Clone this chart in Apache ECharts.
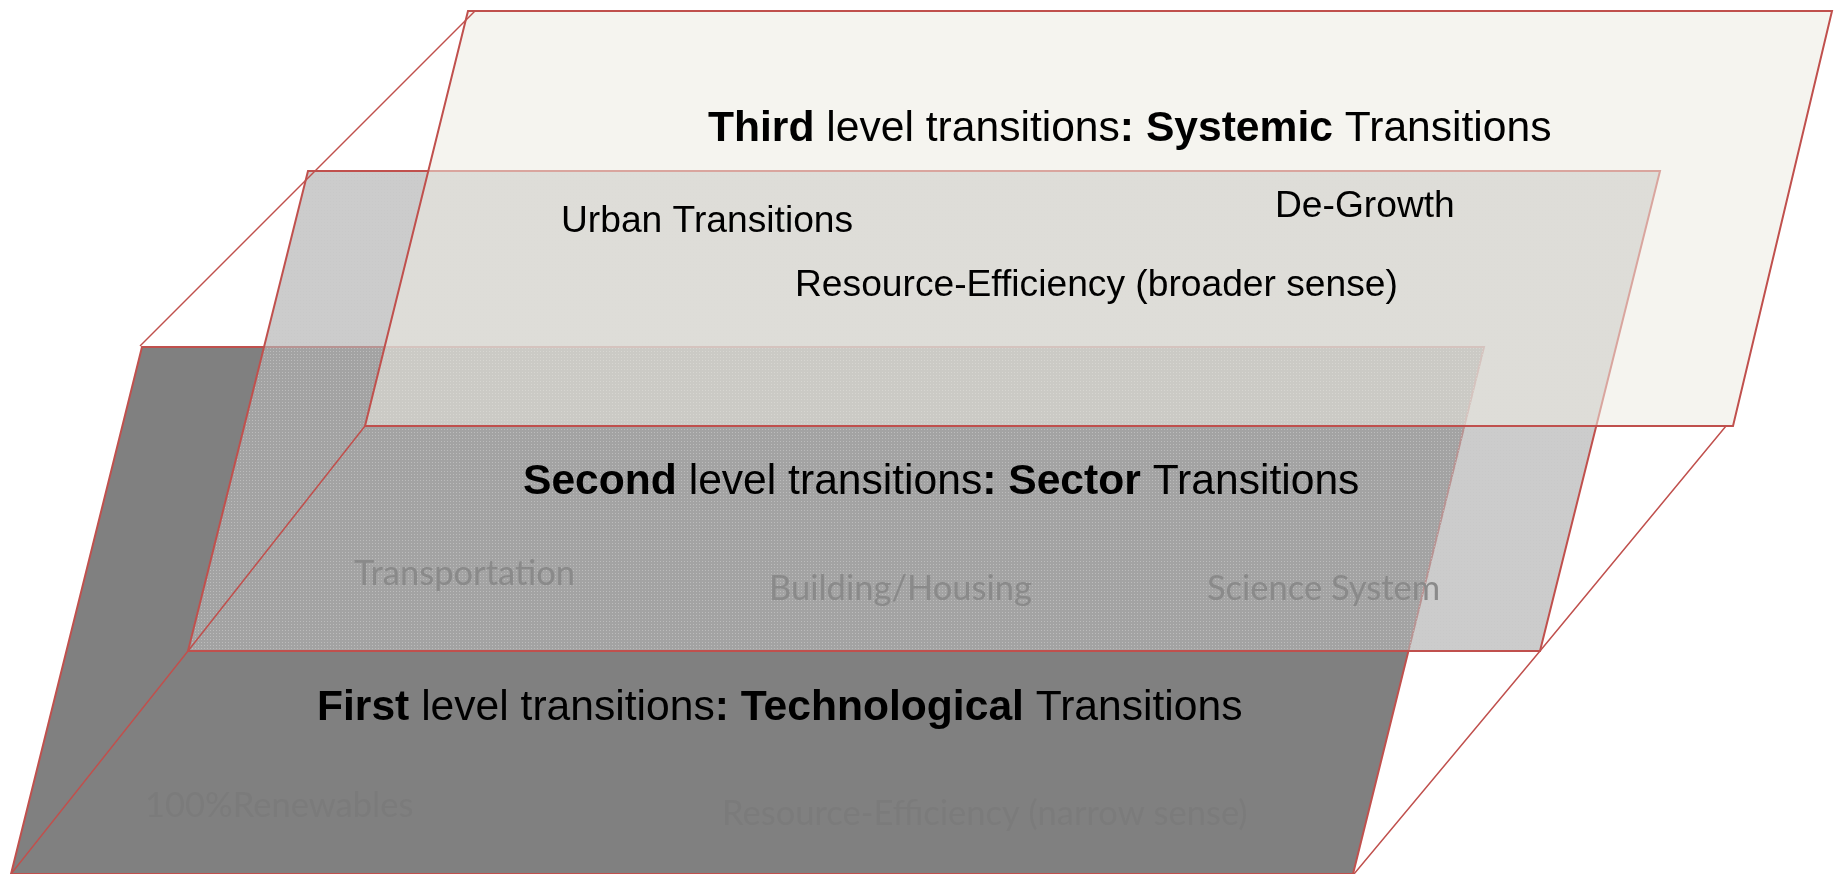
<!DOCTYPE html>
<html>
<head>
<meta charset="utf-8">
<script src="https://cdn.jsdelivr.net/npm/echarts@6/dist/echarts.min.js"></script>
<style>
html, body { margin: 0; padding: 0; background: #fff; }
#main { width: 1834px; height: 874px; }
</style>
</head>
<body>
<div id="main"></div>
<script>
// corners of the three layers, picture units (y grows downwards)
var firstLayer = [[142, 347], [1484, 347], [1353, 874], [11, 874]]
var secondLayer = [[308, 171], [1660, 171], [1540, 651], [188, 651]]
var thirdLayer = [[468, 11], [1832, 11], [1733, 426], [365, 426]]

// thin lines joining the corners of the layers
var topLeftLine = [[475, 11], [140, 346]]
var bottomLeftLine = [[365, 426], [188, 651], [11, 874]]
var bottomRightLine = [[1726, 426], [1540, 651], [1354, 874]]

// headings of each level ({b|..} = bold part)
var headings = [
	'{b|Third} level transitions{b|:} {b|Systemic} Transitions',
	'{b|Second} level transitions{b|:} {b|Sector} Transitions',
	'{b|First} level transitions{b|:} {b|Technological} Transitions'
]
var headingPos = [[708, 129], [523, 482], [317, 708]]

var systemicItems = ['Urban Transitions', 'De-Growth', 'Resource-Efficiency (broader sense)']
var systemicPos = [[561, 222], [1275, 207], [795, 286]]

var sectorItems = ['Transportation', 'Building/Housing', 'Science System']
var sectorPos = [[354, 574], [769, 589], [1207, 589]]

var techItems = ['100%Renewables', 'Resource-Efficiency (narrow sense)']
var techPos = [[145, 806], [722, 814]]

var RED = '#c0504d'

// small dotted tile for the middle layer
function dotTile() {
	var c = document.createElement('canvas')
	c.width = 3
	c.height = 3
	var ctx = c.getContext('2d')
	ctx.fillStyle = 'rgba(180,180,180,0.68)'
	ctx.fillRect(0, 0, 3, 3)
	ctx.fillStyle = 'rgba(200,200,200,0.68)'
	ctx.fillRect(0, 0, 1, 1)
	return c
}

function layerSeries(points, fill) {
	return {
		type: 'custom',
		coordinateSystem: 'cartesian2d',
		silent: true,
		data: points,
		renderItem: function (params, api) {
			if (params.dataIndexInside > 0) return null
			var pts = []
			for (var i = 0; i < params.dataInsideLength; i++) {
				pts.push(api.coord([api.value(0, i), api.value(1, i)]))
			}
			return {
				type: 'polygon',
				shape: { points: pts },
				style: { fill: fill, stroke: RED, lineWidth: 2 }
			}
		}
	}
}

function lineSeries(points) {
	return {
		type: 'line',
		data: points,
		symbol: 'none',
		silent: true,
		lineStyle: { color: RED, width: 1.5 }
	}
}

function textSeries(names, pos, label) {
	var data = []
	for (var i = 0; i < names.length; i++) {
		data.push({ name: names[i], value: pos[i] })
	}
	return {
		type: 'scatter',
		symbolSize: 0,
		silent: true,
		itemStyle: { opacity: 1 },
		data: data,
		label: Object.assign({
			show: true,
			position: 'right',
			distance: 0,
			opacity: 1,
			formatter: '{b}'
		}, label)
	}
}

var chart = echarts.init(document.getElementById('main'))
chart.setOption({
	animation: false,
	grid: { left: 0, right: 0, top: 0, bottom: 0 },
	xAxis: { type: 'value', min: 0, max: 1834, show: false },
	yAxis: { type: 'value', min: 0, max: 874, inverse: true, show: false },
	series: [
		layerSeries(firstLayer, '#808080'),
		layerSeries(secondLayer, { image: dotTile(), repeat: 'repeat' }),
		layerSeries(thirdLayer, 'rgba(237,235,225,0.55)'),
		lineSeries(topLeftLine),
		lineSeries(bottomLeftLine),
		lineSeries(bottomRightLine),
		textSeries(headings, headingPos, {
			fontFamily: 'Liberation Sans',
			fontSize: 42.6,
			color: '#000000',
			rich: {
				b: { fontFamily: 'Liberation Sans', fontSize: 42.6, fontWeight: 'bold', color: '#000000' }
			}
		}),
		textSeries(systemicItems, systemicPos, {
			fontFamily: 'Liberation Sans',
			fontSize: 37.2,
			color: '#000000'
		}),
		textSeries(sectorItems, sectorPos, {
			fontFamily: 'Lato',
			fontSize: 34.5,
			color: '#8a8a8a'
		}),
		textSeries(techItems, techPos, {
			fontFamily: 'Lato',
			fontSize: 34.5,
			color: '#7b7b7b'
		})
	]
})
</script>
</body>
</html>
